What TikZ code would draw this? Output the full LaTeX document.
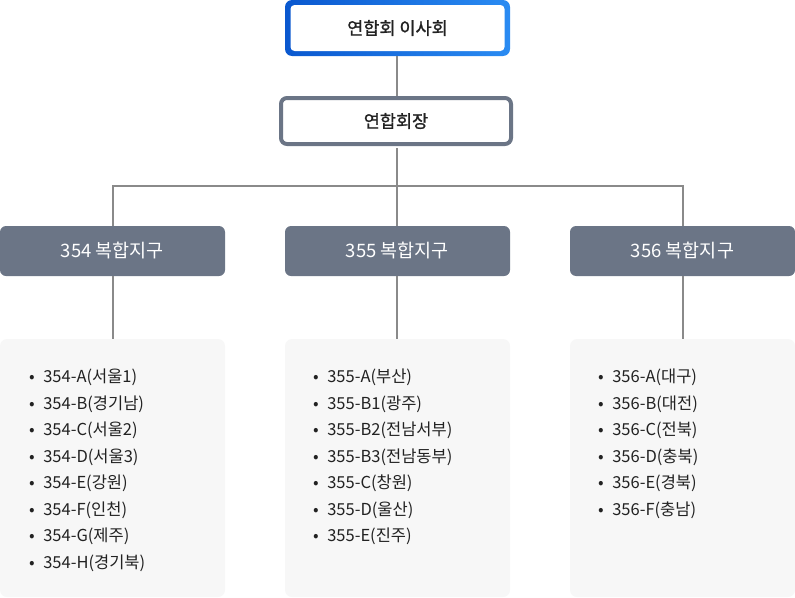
\documentclass[tikz,border=0pt]{standalone}
\usepackage{fontspec}
\setmainfont{Noto Sans CJK KR}
\newfontfamily\krtitle[FakeBold=1.2]{Noto Sans CJK KR}
\usetikzlibrary{positioning}
\definecolor{slate}{HTML}{6B7586}
\definecolor{wire}{HTML}{8A8A8A}
\definecolor{paper}{HTML}{F7F7F7}
\definecolor{blueL}{HTML}{0A58CF}
\definecolor{blueR}{HTML}{2A8BF2}
\definecolor{ink}{HTML}{222222}

\begin{document}
\begin{tikzpicture}[x=1pt, y=-1pt, font=\fontsize{16.5}{20}\selectfont, text=ink,
  topbox/.style={fill=white, rounded corners=4pt, minimum width=214pt, minimum height=46pt, font=\krtitle\fontsize{17.5}{21}\selectfont},
  chairbox/.style={draw=slate, line width=4pt, fill=white, rounded corners=6pt, minimum width=230pt, minimum height=46pt, font=\krtitle\fontsize{17.5}{21}\selectfont},
  district/.style={fill=slate, text=white, rounded corners=6pt, minimum width=225pt, minimum height=50pt, font=\fontsize{18.5}{22}\selectfont},
  group/.style={fill=paper, rounded corners=7pt, minimum width=225pt, minimum height=258pt},
  list/.style={align=left, inner sep=0pt, anchor=north west, font=\fontsize{16.5}{26.5}\selectfont},
  link/.style={draw=wire, line width=2pt}]
\useasboundingbox (0,0) rectangle (795,597);
\shade[left color=blueL, right color=blueR, rounded corners=7pt] (285,0) rectangle (510,56);
\node[topbox] (board) at (397.5,28) {연합회 이사회};
\node[chairbox] (chair) at (396,121) {연합회장};
\node[district] (d354) at (112.5,251) {354 복합지구};
\node[district] (d355) at (397.5,251) {355 복합지구};
\node[district] (d356) at (682.5,251) {356 복합지구};
\node[group] (g354) at (112.5,468) {};
\node[group] (g355) at (397.5,468) {};
\node[group] (g356) at (682.5,468) {};
\node[list] (l354) at (29,369) {•\hspace{8.5pt}354-A(서울1)\\•\hspace{8.5pt}354-B(경기남)\\•\hspace{8.5pt}354-C(서울2)\\•\hspace{8.5pt}354-D(서울3)\\•\hspace{8.5pt}354-E(강원)\\•\hspace{8.5pt}354-F(인천)\\•\hspace{8.5pt}354-G(제주)\\•\hspace{8.5pt}354-H(경기북)};
\node[list] (l355) at (313,369) {•\hspace{8.5pt}355-A(부산)\\•\hspace{8.5pt}355-B1(광주)\\•\hspace{8.5pt}355-B2(전남서부)\\•\hspace{8.5pt}355-B3(전남동부)\\•\hspace{8.5pt}355-C(창원)\\•\hspace{8.5pt}355-D(울산)\\•\hspace{8.5pt}355-E(진주)};
\node[list] (l356) at (598,369) {•\hspace{8.5pt}356-A(대구)\\•\hspace{8.5pt}356-B(대전)\\•\hspace{8.5pt}356-C(전북)\\•\hspace{8.5pt}356-D(충북)\\•\hspace{8.5pt}356-E(경북)\\•\hspace{8.5pt}356-F(충남)};
\coordinate (bus) at (396.5,185.5);
\draw[link] (board.south -| bus) ++(0,5) -- (chair.north -| bus);
\draw[link] (chair.south -| bus) ++(0,2) -- (bus);
\draw[link] (d354.north) |- (bus) -| (d356.north);
\draw[link] (bus) -- (d355.north -| bus);
\draw[link] (d354) -- (g354); \draw[link] (d355.south -| bus) -- (g355.north -| bus); \draw[link] (d356) -- (g356);
\end{tikzpicture}
\end{document}
